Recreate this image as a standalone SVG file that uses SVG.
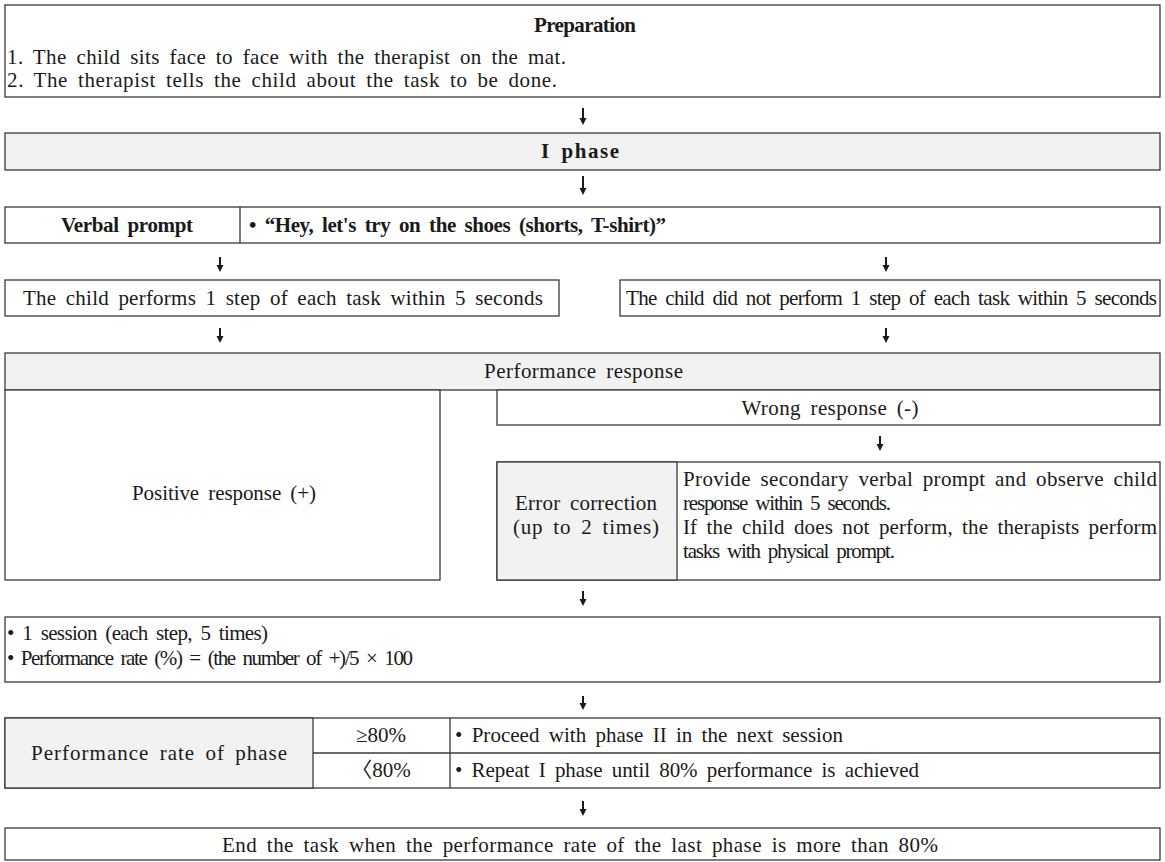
<svg xmlns="http://www.w3.org/2000/svg" width="1165" height="862" viewBox="0 0 1165 862">
<defs>
<style>
.t{font-family:"Liberation Serif","Noto Sans CJK KR",serif;font-size:21px;fill:#1a1a1a;word-spacing:4px}
.b{font-weight:bold}
.m{text-anchor:middle}
.box{fill:#ffffff;stroke:#3a3a3a;stroke-width:1.3}
.g{fill:#f2f2f2;stroke:#3a3a3a;stroke-width:1.3}
.ln{stroke:#3a3a3a;stroke-width:1.3;fill:none}
.shaft{stroke:#1a1a1a;stroke-width:2;fill:none}
.head{fill:#1a1a1a;stroke:none}
</style>
</defs>
<rect width="1165" height="862" fill="#ffffff"/>

<g id="connectors">
<path class="shaft" d="M583,108 V119"/><path class="head" d="M579.5,118 H586.5 L583,125 Z"/>
<path class="shaft" d="M583,176 V189"/><path class="head" d="M579.5,188 H586.5 L583,195 Z"/>
<path class="shaft" d="M220,257 V266"/><path class="head" d="M216.5,265 H223.5 L220,272 Z"/>
<path class="shaft" d="M886,257 V266"/><path class="head" d="M882.5,265 H889.5 L886,272 Z"/>
<path class="shaft" d="M220,328 V337"/><path class="head" d="M216.5,336 H223.5 L220,343 Z"/>
<path class="shaft" d="M886,328 V337"/><path class="head" d="M882.5,336 H889.5 L886,343 Z"/>
<path class="shaft" d="M880,436 V445"/><path class="head" d="M876.5,444 H883.5 L880,451 Z"/>
<path class="shaft" d="M583,591 V600"/><path class="head" d="M579.5,599 H586.5 L583,606 Z"/>
<path class="shaft" d="M583,696 V704"/><path class="head" d="M579.5,703 H586.5 L583,710 Z"/>
<path class="shaft" d="M583,801 V810"/><path class="head" d="M579.5,809 H586.5 L583,816 Z"/>
</g>

<g id="preparation">
<rect class="box" x="5" y="5" width="1155" height="92"/>
<text class="t b m" x="585" y="32" textLength="102">Preparation</text>
<text class="t" x="7" y="64" textLength="559">1. The child sits face to face with the therapist on the mat.</text>
<text class="t" x="7" y="87" textLength="550">2. The therapist tells the child about the task to be done.</text>
</g>

<g id="phase1">
<rect class="g" x="5" y="133" width="1155" height="37"/>
<text class="t b m" x="580" y="158" textLength="78">I phase</text>
</g>

<g id="verbal-prompt">
<rect class="box" x="5" y="207" width="1155" height="36"/>
<line class="ln" x1="240" y1="207" x2="240" y2="243"/>
<text class="t b m" x="127" y="232" textLength="132">Verbal prompt</text>
<text class="t b" x="249" y="232" textLength="417">• “Hey, let's try on the shoes (shorts, T-shirt)”</text>
</g>

<g id="child-performs">
<rect class="box" x="5" y="280" width="554" height="36"/>
<text class="t m" x="283" y="305" textLength="520">The child performs 1 step of each task within 5 seconds</text>
</g>

<g id="child-not-perform">
<rect class="box" x="620" y="280" width="540" height="36"/>
<text class="t m" x="891.5" y="305" textLength="531">The child did not perform 1 step of each task within 5 seconds</text>
</g>

<g id="performance-response">
<rect class="g" x="5" y="353" width="1155" height="37"/>
<text class="t m" x="583.5" y="378" textLength="199">Performance response</text>
</g>

<g id="positive-response">
<rect class="box" x="5" y="390" width="435" height="190"/>
<text class="t m" x="224" y="500" textLength="184">Positive response (+)</text>
</g>

<g id="wrong-response">
<rect class="box" x="497" y="390" width="663" height="35"/>
<text class="t m" x="830" y="415" textLength="177">Wrong response (-)</text>
</g>

<g id="error-correction">
<rect class="box" x="497" y="462" width="663" height="118"/>
<rect class="g" x="497" y="462" width="180" height="118"/>
<text class="t m" x="586" y="510" textLength="142">Error correction</text>
<text class="t m" x="586" y="534" textLength="146">(up to 2 times)</text>
<text class="t" x="683" y="486" textLength="474">Provide secondary verbal prompt and observe child</text>
<text class="t" x="683" y="510" textLength="208">response within 5 seconds.</text>
<text class="t" x="683" y="534" textLength="474">If the child does not perform, the therapists perform</text>
<text class="t" x="683" y="558" textLength="212">tasks with physical prompt.</text>
</g>

<g id="session">
<rect class="box" x="5" y="617" width="1155" height="65"/>
<text class="t" x="7" y="640" textLength="261">• 1 session (each step, 5 times)</text>
<text class="t" x="7" y="665" textLength="406">• Performance rate (%) = (the number of +)/5 × 100</text>
</g>

<g id="rate-table">
<rect class="box" x="5" y="718" width="1155" height="70"/>
<rect class="g" x="5" y="718" width="308" height="70"/>
<line class="ln" x1="450" y1="718" x2="450" y2="788"/>
<line class="ln" x1="313" y1="753" x2="1160" y2="753"/>
<text class="t m" x="159" y="760" textLength="256">Performance rate of phase</text>
<text class="t m" x="381" y="742">≥80%</text>
<text class="t m" x="381" y="777">〈80%</text>
<text class="t" x="455" y="742" textLength="388">• Proceed with phase II in the next session</text>
<text class="t" x="455" y="777" textLength="464">• Repeat I phase until 80% performance is achieved</text>
</g>

<g id="end-task">
<rect class="box" x="5" y="828" width="1155" height="32"/>
<text class="t m" x="580" y="852" textLength="716">End the task when the performance rate of the last phase is more than 80%</text>
</g>
</svg>
